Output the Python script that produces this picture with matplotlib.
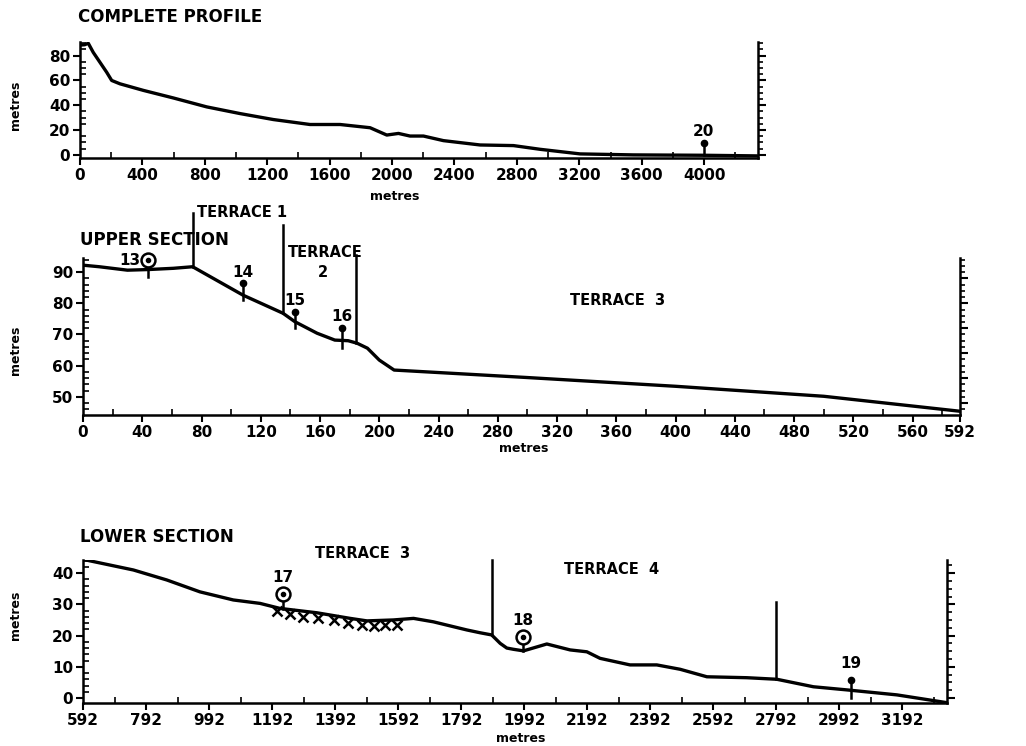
import matplotlib
matplotlib.use('Agg')
import numpy as np
from matplotlib import pyplot as plt
from matplotlib.ticker import MultipleLocator, FixedLocator

plt.rcParams['font.family'] = 'DejaVu Sans'
plt.rcParams['font.weight'] = 'bold'

# complete profile
complete_x = [0, 30, 53, 85, 128, 171, 203, 256, 406, 598, 812, 1026, 1239, 1474, 1667, 1859,
              1966, 2041, 2115, 2201, 2329, 2564, 2778, 2949, 3205, 3545, 4000, 4340]
complete_y = [88.5, 88.8, 90.0, 82.6, 74.6, 66.6, 60.0, 57.3, 52.0, 45.9, 38.7, 33.3, 28.5, 24.5,
              24.5, 21.9, 16.0, 17.3, 15.2, 15.2, 11.5, 8.0, 7.5, 4.5, 0.8, 0.0, -0.3, -0.8]
complete_samples = ['20']
complete_sample_x = [3996]
complete_sample_bottom = [0.0]
complete_sample_top = [9.9]

# upper section
upper_x = [0, 11, 30, 44, 61, 74, 108, 135, 143, 158, 170, 179, 185, 192, 200, 210,
           300, 400, 500, 592]
upper_y = [92.2, 91.7, 90.6, 90.8, 91.2, 91.7, 82.6, 76.8, 74.1, 70.4, 68.2, 68.0, 67.2,
           65.6, 61.8, 58.6, 56.2, 53.4, 50.2, 45.4]
upper_terrace_x = [74, 135, 184]
upper_terrace_bottom = [91.7, 76.8, 67.2]
upper_terrace_top = [109.0, 105.0, 95.4]
upper_samples = ['13', '14', '15', '16']
upper_sample_x = [44, 108, 143, 175]
upper_sample_bottom = [88.5, 81.0, 72.0, 65.6]
upper_sample_top = [93.8, 86.4, 77.3, 72.0]
upper_sample_circled = [True, False, False, False]

# lower section
lower_x = [592, 752, 858, 963, 1069, 1154, 1217, 1334, 1440, 1493, 1577, 1641, 1704, 1810,
           1852, 1889, 1916, 1937, 1958, 1990, 2064, 2138, 2191, 2233, 2328, 2413, 2487,
           2572, 2699, 2794, 2910, 3016, 3175, 3334]
lower_y = [44.4, 41.0, 37.8, 34.0, 31.4, 30.3, 28.7, 27.3, 25.5, 24.7, 25.0, 25.5, 24.4,
           21.8, 20.9, 20.2, 17.5, 16.0, 15.6, 15.1, 17.3, 15.4, 14.8, 12.7, 10.6, 10.6,
           9.2, 6.8, 6.5, 6.0, 3.6, 2.6, 1.0, -1.5]
lower_terrace_x = [1889, 2792]
lower_terrace_bottom = [20.2, 6.0]
lower_terrace_top = [44.2, 30.8]
lower_samples = ['17', '18', '19']
lower_sample_x = [1226, 1988, 3030]
lower_sample_bottom = [28.5, 15.1, 0.0]
lower_sample_top = [33.3, 19.6, 5.8]
lower_sample_circled = [True, True, False]
cross_x = [1207, 1249, 1291, 1339, 1387, 1434, 1477, 1514, 1551, 1588]
cross_y = [27.9, 26.9, 26.0, 25.5, 25.0, 24.1, 23.4, 23.0, 23.4, 23.4]

W, H = 1026, 746
fig = plt.figure(figsize=(W / 100, H / 100), dpi=100)


def px_axes(left, right, top, bottom):
    return fig.add_axes([left / W, 1 - bottom / H, (right - left) / W, (bottom - top) / H])


def style_axes(ax, xlim, ylim, xmajor, xminor, ymajor, yminor, rminor):
    ax.set_xlim(*xlim)
    ax.set_ylim(*ylim)
    ax.spines['top'].set_visible(False)
    ax.spines['right'].set_visible(False)
    for sp in ('left', 'bottom'):
        ax.spines[sp].set_linewidth(1.8)
    ax.xaxis.set_major_locator(FixedLocator(xmajor))
    ax.xaxis.set_minor_locator(FixedLocator(xminor))
    ax.yaxis.set_major_locator(FixedLocator(ymajor))
    ax.yaxis.set_minor_locator(MultipleLocator(yminor))
    ax.tick_params(which='major', direction='out', length=5, width=1.5, labelsize=11, pad=2)
    ax.tick_params(which='minor', direction='in', length=4, width=1.2)
    for lab in ax.get_xticklabels() + ax.get_yticklabels():
        lab.set_fontweight('bold')
    # right side scale
    ax2 = ax.twinx()
    ax2.set_ylim(*ylim)
    for sp in ('left', 'top', 'bottom'):
        ax2.spines[sp].set_visible(False)
    ax2.spines['right'].set_linewidth(1.8)
    ax2.yaxis.set_major_locator(MultipleLocator(rminor * 4))
    ax2.yaxis.set_minor_locator(MultipleLocator(rminor))
    ax2.tick_params(which='major', direction='out', length=6, width=1.5, labelright=False)
    ax2.tick_params(which='minor', direction='out', length=3.5, width=1.2)
    return ax


def draw_samples(ax, names, xs, bottoms, tops, circled, dy):
    for name, x, b, t, c in zip(names, xs, bottoms, tops, circled):
        ax.plot([x, x], [b, t], color='black', lw=1.8, clip_on=False)
        if c:
            ax.plot(x, t, marker='o', ms=10, mfc='white', mec='black', mew=1.8, clip_on=False)
            ax.plot(x, t, marker='o', ms=3, color='black', clip_on=False)
        else:
            ax.plot(x, t, marker='o', ms=4.5, color='black', clip_on=False)
        ax.text(x, t + dy, name, ha='center', va='bottom', fontsize=11, fontweight='bold')


# ---- complete profile ----
ax1 = px_axes(80, 758, 42, 158)
style_axes(ax1, (0, 4345), (-2.5, 91),
           list(range(0, 4001, 400)), list(range(200, 4345, 400)),
           [0, 20, 40, 60, 80], 5, 5)
ax1.plot(complete_x, complete_y, color='black', lw=2.4, solid_capstyle='round')
draw_samples(ax1, complete_samples, complete_sample_x, complete_sample_bottom,
             complete_sample_top, [False], 3)
fig.text(78 / W, 1 - 17 / H, 'COMPLETE PROFILE', fontsize=12, fontweight='bold', va='center')
fig.text(15 / W, 1 - 105 / H, 'metres', rotation=90, fontsize=9, fontweight='bold',
         ha='center', va='center')
fig.text(395 / W, 1 - 197 / H, 'metres', fontsize=9, fontweight='bold', ha='center', va='center')

# ---- upper section ----
ax2 = px_axes(83, 960, 258, 415)
style_axes(ax2, (0, 592), (44.2, 94.5),
           list(range(0, 561, 40)) + [592], list(range(20, 592, 40)),
           [50, 60, 70, 80, 90], 2, 2)
ax2.plot(upper_x, upper_y, color='black', lw=2.4, solid_capstyle='round')
for x, b, t in zip(upper_terrace_x, upper_terrace_bottom, upper_terrace_top):
    ax2.plot([x, x], [b, t], color='black', lw=1.8, clip_on=False)
draw_samples(ax2, upper_samples, upper_sample_x, upper_sample_bottom, upper_sample_top,
             upper_sample_circled, 1.2)
ax2.texts[0].set_position((38.5, 93.8))
ax2.texts[0].set_ha('right')
ax2.texts[0].set_va('center')
ax2.text(77, 109, 'TERRACE 1', fontsize=10.5, fontweight='bold', va='center')
ax2.text(138, 96.2, 'TERRACE', fontsize=10.5, fontweight='bold', va='center')
ax2.text(162, 89.7, '2', fontsize=10.5, fontweight='bold', va='center', ha='center')
ax2.text(361, 81, 'TERRACE  3', fontsize=10.5, fontweight='bold', va='center', ha='center')
fig.text(80 / W, 1 - 240 / H, 'UPPER SECTION', fontsize=12, fontweight='bold', va='center')
fig.text(15 / W, 1 - 350 / H, 'metres', rotation=90, fontsize=9, fontweight='bold',
         ha='center', va='center')
fig.text(524 / W, 1 - 449 / H, 'metres', fontsize=9, fontweight='bold', ha='center', va='center')

# ---- lower section ----
ax3 = px_axes(83, 947, 560, 703)
style_axes(ax3, (592, 3334), (-1.6, 44.2),
           list(range(592, 3193, 200)), list(range(692, 3334, 200)),
           [0, 10, 20, 30, 40], 2, 2.5)
ax3.plot(lower_x, lower_y, color='black', lw=2.4, solid_capstyle='round')
for x, b, t in zip(lower_terrace_x, lower_terrace_bottom, lower_terrace_top):
    ax3.plot([x, x], [b, t], color='black', lw=1.8, clip_on=False)
ax3.plot(cross_x, cross_y, linestyle='none', marker='x', ms=7, mew=1.8, color='black')
draw_samples(ax3, lower_samples, lower_sample_x, lower_sample_bottom, lower_sample_top,
             lower_sample_circled, 2.8)
ax3.text(1478, 46.4, 'TERRACE  3', fontsize=10.5, fontweight='bold', va='center',
         ha='center', clip_on=False)
ax3.text(2268, 41, 'TERRACE  4', fontsize=10.5, fontweight='bold', va='center', ha='center')
fig.text(80 / W, 1 - 537 / H, 'LOWER SECTION', fontsize=12, fontweight='bold', va='center')
fig.text(15 / W, 1 - 615 / H, 'metres', rotation=90, fontsize=9, fontweight='bold',
         ha='center', va='center')
fig.text(521 / W, 1 - 738 / H, 'metres', fontsize=9, fontweight='bold', ha='center', va='center')

fig.savefig('out.png', dpi=100)
